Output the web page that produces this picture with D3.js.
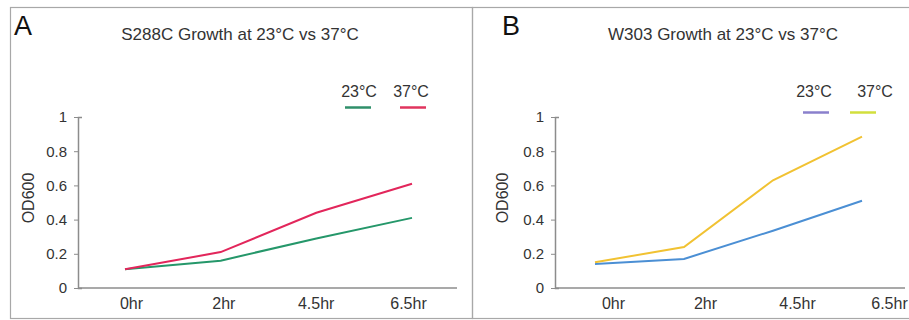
<!DOCTYPE html>
<html>
<head>
<meta charset="utf-8">
<script src="https://cdn.jsdelivr.net/npm/d3@7"></script>
<style>
  body { margin: 0; background: #fff; }
  text { font-family: "Liberation Sans", Arial, sans-serif; fill: #333; }
</style>
</head>
<body>
<div id="chart"></div>
<script>
// data
var timepoints = ["0hr", "2hr", "4.5hr", "6.5hr"];
var yTicks = [0, 0.2, 0.4, 0.6, 0.8, 1];
var temps = ["23°C", "37°C"];

var s288c_23 = [0.11, 0.16, 0.29, 0.41];
var s288c_37 = [0.11, 0.21, 0.44, 0.61];
var w303_23 = [0.14, 0.17, 0.335, 0.51];
var w303_37 = [0.15, 0.24, 0.63, 0.885];

var W = 909, H = 320;

var svg = d3.select("#chart").append("svg")
    .attr("width", W)
    .attr("height", H);

// y scale is shared by both panels
var y = d3.scaleLinear().domain([0, 1]).range([288, 117]);

function drawPanel(p) {
  var g = svg.append("g");

  // frame
  g.append("rect")
      .attr("x", p.frame[0] + 0.5).attr("y", 7.5)
      .attr("width", p.frame[1] - p.frame[0]).attr("height", 311)
      .attr("fill", "none").attr("stroke", "#a8a8a8").attr("stroke-width", 1.2);

  // panel letter + title
  g.append("text")
      .attr("x", p.frame[0] + p.letterDx).attr("y", 35)
      .style("font-size", "27px")
      .style("fill", "#111")
      .text(p.letter);
  g.append("text")
      .attr("x", p.titleX).attr("y", 40)
      .attr("text-anchor", "middle")
      .style("font-size", "17px")
      .text(p.title);

  // scales for the x positions
  var xLab = d3.scalePoint().domain(timepoints).range(p.labRange);
  var xPt = d3.scalePoint().domain(timepoints).range(p.ptRange);

  // x axis line
  g.append("line")
      .attr("x1", p.axisX).attr("x2", p.axisEnd)
      .attr("y1", y(0)).attr("y2", y(0))
      .attr("stroke", "#8c8c8c").attr("stroke-width", 1.5);

  // x labels
  var xa = g.append("g")
      .attr("transform", "translate(0," + y(0) + ")")
      .call(d3.axisBottom(xLab).tickSize(0).tickPadding(10));
  xa.select(".domain").remove();
  xa.selectAll("text").style("font-size", "16px").style("font-family", null);

  // y axis
  var ya = g.append("g")
      .attr("transform", "translate(" + p.axisX + ",0)")
      .call(d3.axisLeft(y).tickValues(yTicks).tickFormat(d3.format("~g"))
        .tickSize(4).tickSizeOuter(-4).tickPadding(7));
  ya.select(".domain").attr("stroke", "#8c8c8c").attr("stroke-width", 1.5);
  ya.selectAll(".tick line").attr("stroke", "#8c8c8c");
  ya.selectAll("text").style("font-size", "15px").style("font-family", null);

  g.append("text")
      .attr("transform", "translate(" + (p.axisX - p.ylabDx) + "," + 198 + ") rotate(-90)")
      .attr("text-anchor", "middle")
      .style("font-size", "16px")
      .text("OD600");

  // lines
  var line = d3.line()
      .x(function(d, i) { return xPt(timepoints[i]); })
      .y(function(d) { return y(d); });

  p.series.forEach(function(s) {
    g.append("path")
        .datum(s.values)
        .attr("fill", "none")
        .attr("stroke", s.color)
        .attr("stroke-width", 2)
        .attr("d", line);
  });

  // legend
  p.series.forEach(function(s, i) {
    var lx = p.legendX[i];
    g.append("text")
        .attr("x", lx).attr("y", 97)
        .attr("text-anchor", "middle")
        .style("font-size", "16px")
        .text(temps[i]);
    g.append("line")
        .attr("x1", lx - 13 + s.legendDx).attr("x2", lx + 13 + s.legendDx)
        .attr("y1", p.legendY).attr("y2", p.legendY)
        .attr("stroke", s.legendColor).attr("stroke-width", 2.5);
  });
}

drawPanel({
  frame: [10, 472],
  letter: "A",
  letterDx: 4,
  title: "S288C Growth at 23°C vs 37°C",
  titleX: 240,
  axisX: 78,
  axisEnd: 457,
  ylabDx: 44,
  labRange: [131, 408],
  ptRange: [125, 412],
  legendX: [359, 411],
  legendY: 107.5,
  series: [
    {values: s288c_23, color: "#25976a", legendColor: "#2f8f6a", legendDx: -1},
    {values: s288c_37, color: "#e2265b", legendColor: "#e0345e", legendDx: 2}
  ]
});

drawPanel({
  frame: [472, 915],
  letter: "B",
  letterDx: 30,
  title: "W303 Growth at 23°C vs 37°C",
  titleX: 723,
  axisX: 555,
  axisEnd: 905,
  ylabDx: 47,
  labRange: [613, 889],
  ptRange: [595, 862],
  legendX: [814, 875],
  legendY: 112.5,
  series: [
    {values: w303_23, color: "#4b8fd4", legendColor: "#8a80cc", legendDx: 2},
    {values: w303_37, color: "#f1c232", legendColor: "#d2df3c", legendDx: -12}
  ]
});
</script>
</body>
</html>
